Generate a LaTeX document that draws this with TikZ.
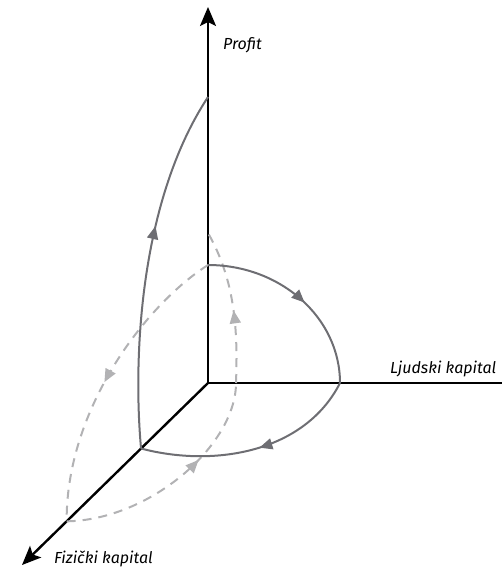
\documentclass[tikz,border=0pt]{standalone}
\usepackage{fontspec}
\setmainfont{Fira Sans}
\usetikzlibrary{arrows.meta,decorations.markings,calc}
\definecolor{curvegray}{HTML}{6E6E73}
\definecolor{dashgray}{HTML}{B2B2B4}
\begin{document}
\begin{tikzpicture}[x=1pt,y=-1pt,
  axis/.style={line width=2.4pt, draw=black},
  axisarrow/.style={axis, -{Stealth[length=19pt,width=16pt,inset=4pt]}},
  solidpath/.style={line width=2pt, draw=curvegray},
  dashpath/.style={line width=2pt, draw=dashgray, dash pattern=on 9pt off 7pt},
  midarrow/.style={postaction={decorate},
    decoration={markings, mark=at position #1 with {\arrow{Triangle[length=13pt,width=11pt]}}}},
  lbl/.style={inner sep=0pt, font=\itshape\fontsize{16}{19}\selectfont}]
\useasboundingbox (0,0) rectangle (502,567);
% axis points
\coordinate (O) at (208,383);
\coordinate (Ztip) at (208,7);
\coordinate (Yend) at (502,383);
\coordinate (Xtip) at (22,565);
% path points
\coordinate (A) at (208,265);
\coordinate (B) at (208,233);
\coordinate (P) at (208,97);
\coordinate (Y1) at (340,383);
\coordinate (Y2) at (236,383);
\coordinate (F1) at ($(O)!0.36!(Xtip)$);
\coordinate (F2) at ($(O)!0.76!(Xtip)$);
% axes
\draw[axisarrow] (O) -- (Ztip);
\draw[axis] (O) -- (Yend);
\draw[axisarrow] (O) -- (Xtip);
% labels
\node[lbl, anchor=base west] (profit) at (223,50) {Profit};
\node[lbl, anchor=base west] (ljudski) at (390,373) {Ljudski kapital};
\node[lbl, anchor=base west] (fizicki) at (54,563) {Fizički kapital};
% dashed loop
\draw[dashpath, midarrow=0.52] (A) .. controls (145,305) and (66,410) .. (F2);
\draw[dashpath, midarrow=0.63] (F2) .. controls (150,520) and (236,445) .. (Y2);
\draw[dashpath, midarrow=0.47] (Y2) .. controls (238,330) and (235,280) .. (B);
% solid loop
\draw[solidpath, midarrow=0.54] (A) arc[start angle=-90, end angle=0, x radius=132, y radius=118];
\draw[solidpath, midarrow=0.47] (Y1) .. controls (305,452) and (215,468) .. (F1);
\draw[solidpath, midarrow=0.615] (F1) .. controls (133,360) and (139,202) .. (P);
\end{tikzpicture}
\end{document}
